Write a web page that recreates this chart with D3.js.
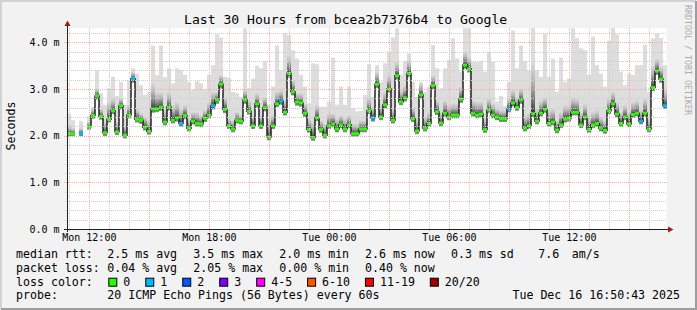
<!DOCTYPE html>
<html>
<head>
<meta charset="utf-8">
<script src="https://cdn.jsdelivr.net/npm/d3@7/dist/d3.min.js"></script>
<style>
body { margin: 0; background: #f2f2f2; }
text { font-family: "DejaVu Sans Mono", monospace; white-space: pre; }
</style>
</head>
<body>
<div id="chart"></div>
<script>
// smokeping style graph, 150 steps of 12 minutes (30 hours)
var width = 697;
var height = 310;

var startTime = new Date(2025, 11, 15, 10, 53);
var endTime = new Date(2025, 11, 16, 16, 53);
var stepMinutes = 12;

// median rtt per step (ms), null = no data
var median = [
	2.04, 2.04, null, 2.05, null, 2.19, 2.43, 2.85, 2.41, 2.06,
	2.35, 2.53, 2.08, 2.64, 2.01, 2.44, 3.22, 2.35, 2.33, 2.18,
	2.09, 2.57, 2.57, 2.61, 2.29, 2.61, 2.33, 2.38, 2.26, 2.43,
	2.16, 2.31, 2.26, 2.25, 2.37, 2.44, 2.64, 2.76, 3.10, 2.56,
	2.21, 2.14, 2.33, 2.31, 2.76, 2.52, 2.21, 2.68, 2.21, 2.60,
	1.97, 2.21, 2.68, 2.74, 2.50, 3.33, 2.94, 2.72, 2.70, 2.48,
	2.13, 1.96, 2.38, 2.13, 2.01, 2.21, 2.25, 2.14, 2.23, 2.14,
	2.23, 2.04, 2.04, 2.14, 2.14, 2.53, 2.38, 3.10, 2.40, 2.66,
	3.00, 2.33, 3.28, 2.72, 2.81, 3.33, 2.36, 2.10, 2.87, 2.16,
	2.26, 3.07, 2.51, 2.27, 2.48, 2.40, 2.44, 2.44, 2.78, 3.51,
	3.43, 2.48, 2.44, 2.46, 2.13, 2.55, 2.44, 2.40, 2.36, 2.36,
	2.57, 2.70, 2.60, 2.76, 2.16, 2.21, 2.47, 2.31, 2.48, 2.56,
	2.26, 2.29, 2.12, 2.23, 2.35, 2.37, 2.50, 2.50, 2.23, 2.40,
	2.13, 2.23, 2.26, 2.16, 2.11, 2.53, 2.68, 2.46, 2.26, 2.40,
	2.25, 2.45, 2.48, 2.31, 2.48, 2.14, 3.03, 3.38, 3.21, 2.64
];

// fastest ping per step (bottom of the smoke)
var minPing = [
	1.98, 1.99, null, 1.99, null, 2.13, 2.36, 2.77, 2.34, 1.99,
	2.28, 2.46, 2.01, 2.56, 1.94, 2.37, 3.13, 2.28, 2.25, 2.11,
	2.02, 2.49, 2.50, 2.53, 2.22, 2.53, 2.26, 2.30, 2.19, 2.35,
	2.09, 2.24, 2.19, 2.18, 2.29, 2.37, 2.56, 2.68, 3.01, 2.48,
	2.14, 2.07, 2.26, 2.24, 2.68, 2.45, 2.14, 2.60, 2.14, 2.52,
	1.90, 2.14, 2.61, 2.66, 2.43, 3.24, 2.86, 2.64, 2.62, 2.40,
	2.06, 1.89, 2.31, 2.06, 1.94, 2.14, 2.18, 2.07, 2.16, 2.07,
	2.16, 1.98, 1.98, 2.07, 2.07, 2.46, 2.30, 3.02, 2.33, 2.58,
	2.92, 2.26, 3.20, 2.65, 2.73, 3.25, 2.29, 2.03, 2.79, 2.09,
	2.19, 2.99, 2.44, 2.20, 2.41, 2.33, 2.37, 2.37, 2.70, 3.43,
	3.35, 2.41, 2.37, 2.39, 2.06, 2.48, 2.37, 2.33, 2.29, 2.29,
	2.50, 2.62, 2.53, 2.68, 2.09, 2.14, 2.40, 2.24, 2.41, 2.49,
	2.19, 2.22, 2.05, 2.16, 2.28, 2.30, 2.43, 2.43, 2.16, 2.33,
	2.06, 2.16, 2.19, 2.09, 2.04, 2.46, 2.60, 2.39, 2.19, 2.33,
	2.18, 2.38, 2.41, 2.24, 2.41, 2.07, 2.95, 3.30, 3.13, 2.57
];

// top of the dense (dark) part of the smoke
var upperPing = [
	2.23, 2.16, null, 2.16, null, 2.30, 2.58, 3.01, 2.58, 2.30,
	2.73, 2.80, 2.30, 2.80, 2.23, 2.66, 3.37, 2.58, 2.48, 2.41,
	2.33, 3.15, 2.94, 2.94, 2.55, 2.94, 2.66, 2.73, 2.58, 2.66,
	2.37, 2.51, 2.51, 2.44, 2.55, 2.73, 2.94, 2.94, 3.30, 2.83,
	2.37, 2.33, 2.51, 2.44, 2.98, 2.76, 2.44, 2.91, 2.44, 2.83,
	2.37, 2.44, 2.94, 2.98, 2.76, 3.73, 3.19, 2.91, 2.91, 2.69,
	2.37, 2.30, 2.66, 2.33, 2.26, 2.48, 2.48, 2.37, 2.44, 2.37,
	2.44, 2.26, 2.26, 2.33, 2.33, 2.83, 2.62, 3.37, 2.66, 2.94,
	3.30, 2.58, 3.58, 2.98, 3.08, 3.62, 2.62, 2.37, 3.12, 2.41,
	2.51, 3.30, 2.76, 2.51, 2.76, 2.66, 2.69, 2.69, 3.05, 3.80,
	3.69, 2.76, 2.73, 2.73, 2.37, 2.80, 2.69, 2.58, 2.55, 2.55,
	2.80, 2.98, 2.83, 3.01, 2.44, 2.48, 3.58, 2.58, 2.76, 2.83,
	2.55, 2.58, 2.33, 2.51, 2.66, 2.66, 2.83, 2.80, 2.51, 2.69,
	2.41, 2.51, 2.55, 2.41, 2.33, 2.80, 2.94, 2.73, 2.51, 2.66,
	2.51, 2.73, 2.76, 2.55, 2.80, 2.37, 3.51, 3.65, 3.48, 3.01
];

// slowest ping per step (top of the smoke)
var maxPing = [
	2.46, 2.33, null, 2.31, null, 2.41, 2.62, 3.40, 2.91, 2.66,
	3.01, 3.26, 2.85, 3.15, 2.66, 3.19, 3.44, 3.33, 3.08, 2.87,
	2.94, 3.93, 3.30, 3.93, 3.25, 3.44, 3.12, 3.44, 3.40, 3.30,
	3.15, 2.98, 3.17, 3.12, 2.99, 3.30, 3.51, 4.17, 4.10, 3.26,
	3.24, 2.94, 2.91, 2.83, 4.31, 3.01, 3.22, 3.50, 3.44, 3.60,
	2.66, 3.05, 3.93, 3.40, 4.19, 4.15, 3.83, 3.65, 3.30, 3.05,
	2.69, 3.55, 3.53, 2.62, 2.62, 2.73, 3.67, 2.66, 3.05, 2.66,
	3.05, 2.59, 2.52, 2.53, 2.87, 3.53, 2.83, 3.51, 3.15, 3.55,
	3.80, 4.10, 4.30, 3.30, 3.60, 3.76, 3.15, 2.83, 3.15, 2.94,
	3.05, 3.94, 3.44, 3.01, 3.44, 3.62, 4.08, 3.65, 3.37, 4.30,
	4.30, 3.58, 3.57, 3.60, 3.37, 3.80, 3.58, 2.73, 2.85, 2.63,
	3.15, 4.25, 3.44, 3.93, 3.60, 3.40, 4.31, 3.40, 3.26, 4.19,
	3.26, 3.65, 2.94, 3.67, 3.15, 3.22, 4.32, 4.09, 3.87, 3.83,
	3.30, 4.12, 3.51, 3.33, 3.05, 4.03, 4.33, 4.17, 3.37, 3.08,
	3.33, 3.30, 3.51, 3.51, 3.94, 2.94, 4.08, 4.19, 4.09, 3.51
];

// lost pings (of 20) per step
var loss = [
	0, 0, 0, 1, 0, 0, 0, 0, 0, 0,
	0, 0, 0, 0, 0, 0, 1, 0, 0, 0,
	0, 0, 0, 0, 0, 0, 0, 0, 1, 0,
	0, 0, 0, 0, 0, 0, 1, 0, 0, 0,
	0, 0, 0, 0, 0, 0, 0, 0, 0, 0,
	0, 0, 0, 1, 0, 0, 0, 0, 0, 0,
	0, 0, 0, 0, 0, 0, 0, 0, 0, 0,
	0, 0, 0, 0, 0, 0, 1, 0, 0, 0,
	0, 0, 0, 0, 0, 0, 0, 0, 0, 0,
	0, 0, 0, 0, 0, 0, 0, 0, 0, 0,
	0, 0, 0, 0, 0, 0, 0, 0, 0, 0,
	1, 0, 0, 0, 0, 0, 0, 0, 0, 0,
	0, 0, 0, 0, 0, 0, 0, 0, 0, 0,
	0, 0, 0, 0, 0, 0, 0, 0, 0, 0,
	0, 0, 0, 1, 0, 0, 0, 0, 0, 1
];

var yMajor = [0, 1, 2, 3, 4];
var yLabels = ["0.0 m", "1.0 m", "2.0 m", "3.0 m", "4.0 m"];

var lossLabels = ["0", "1", "2", "3", "4-5", "6-10", "11-19", "20/20"];
var lossLimits = [0, 1, 2, 3, 5, 10, 19, 20];
var lossColors = ["#26ff00", "#00b8ff", "#0059ff", "#7e00ff", "#ff00ff", "#ff5500", "#ff0000", "#a00000"];

var rttStats = ["2.5 ms avg", "3.5 ms max", "2.0 ms min", "2.6 ms now", "0.3 ms sd", "7.6", "am/s"];
var lossStats = ["0.04 % avg", "2.05 % max", "0.00 % min", "0.40 % now"];
var titleText = "Last 30 Hours from bcea2b7376b4 to Google";
var probeText = "20 ICMP Echo Pings (56 Bytes) every 60s";
var stampText = "Tue Dec 16 16:50:43 2025";

var pLeft = 67, pRight = 667, pTop = 28.2, pBottom = 229;

var svg = d3.select("div#chart").append("svg")
	.attr("width", width)
	.attr("height", height);

// frame
svg.append("rect").attr("width", width).attr("height", height).attr("fill", "#f2f2f2");
svg.append("path").attr("d", "M1,309 V1 H696").attr("fill", "none").attr("stroke", "#d2d2d2").attr("stroke-width", 2);
svg.append("path").attr("d", "M1,309 H696 V1").attr("fill", "none").attr("stroke", "#9c9c9c").attr("stroke-width", 2);

var x = d3.scaleTime().domain([startTime, endTime]).range([pLeft, pRight]);
var y = d3.scaleLinear().domain([0, 4.3]).range([pBottom, pTop]);

var defs = svg.append("defs");
defs.append("clipPath").attr("id", "plotclip")
	.append("rect").attr("x", pLeft).attr("y", pTop).attr("width", pRight - pLeft).attr("height", pBottom - pTop);

var gUp = defs.append("linearGradient").attr("id", "smokeUp")
	.attr("x1", 0).attr("y1", 0).attr("x2", 0).attr("y2", 1);
[[0, "#dcdcdc"], [0.4, "#b4b4b4"], [0.75, "#767676"], [1, "#353535"]].forEach(function (s) {
	gUp.append("stop").attr("offset", s[0]).attr("stop-color", s[1]);
});
var gDown = defs.append("linearGradient").attr("id", "smokeDown")
	.attr("x1", 0).attr("y1", 0).attr("x2", 0).attr("y2", 1);
[[0, "#353535"], [1, "#a0a0a0"]].forEach(function (s) {
	gDown.append("stop").attr("offset", s[0]).attr("stop-color", s[1]);
});

svg.append("rect").attr("x", pLeft).attr("y", pTop).attr("width", pRight - pLeft).attr("height", pBottom - pTop)
	.attr("fill", "#ffffff");

var steps = median.map(function (m, i) {
	return {
		t0: d3.timeMinute.offset(startTime, i * stepMinutes),
		t1: d3.timeMinute.offset(startTime, (i + 1) * stepMinutes),
		med: m, lo: minPing[i], up: upperPing[i], hi: maxPing[i], loss: loss[i]
	};
});
var valid = steps.filter(function (d) { return d.med != null; });

var plot = svg.append("g").attr("clip-path", "url(#plotclip)");

// smoke
plot.selectAll("rect.smoke").data(valid).enter().append("rect")
	.attr("class", "smoke")
	.attr("x", function (d) { return x(d.t0); })
	.attr("width", function (d) { return x(d.t1) - x(d.t0); })
	.attr("y", function (d) { return y(d.hi); })
	.attr("height", function (d) { return y(d.lo) - y(d.hi); })
	.attr("fill", "#dddddd");
plot.selectAll("rect.smokeup").data(valid).enter().append("rect")
	.attr("class", "smokeup")
	.attr("x", function (d) { return x(d.t0); })
	.attr("width", function (d) { return x(d.t1) - x(d.t0); })
	.attr("y", function (d) { return y(d.up); })
	.attr("height", function (d) { return y(d.med) - y(d.up); })
	.attr("fill", "url(#smokeUp)");
plot.selectAll("rect.smokedown").data(valid).enter().append("rect")
	.attr("class", "smokedown")
	.attr("x", function (d) { return x(d.t0); })
	.attr("width", function (d) { return x(d.t1) - x(d.t0); })
	.attr("y", function (d) { return y(d.med); })
	.attr("height", function (d) { return y(d.lo) - y(d.med); })
	.attr("fill", "url(#smokeDown)");

// grid
var minorY = d3.range(1, 22).map(function (k) { return k * 0.2; }).filter(function (v) { return Math.abs(v - Math.round(v)) > 0.01; });
var grid = svg.append("g").attr("shape-rendering", "crispEdges");
function px(v) { return Math.round(v) + 0.5; }
var hours = x.ticks(d3.timeHour.every(1));
var hours3 = x.ticks(d3.timeHour.every(3)).map(Number);
grid.selectAll("line.vminor").data(hours.filter(function (t) { return hours3.indexOf(+t) < 0; })).enter().append("line")
	.attr("x1", function (d) { return px(x(d)); }).attr("x2", function (d) { return px(x(d)); })
	.attr("y1", pTop).attr("y2", pBottom + 2)
	.attr("stroke", "#cdcdcd").attr("stroke-dasharray", "1,1");
grid.selectAll("line.hminor").data(minorY).enter().append("line")
	.attr("y1", function (d) { return px(y(d)); }).attr("y2", function (d) { return px(y(d)); })
	.attr("x1", pLeft - 2).attr("x2", pRight)
	.attr("stroke", "#cdcdcd").attr("stroke-dasharray", "1,1");
grid.selectAll("line.vmajor").data(hours3).enter().append("line")
	.attr("x1", function (d) { return px(x(d)); }).attr("x2", function (d) { return px(x(d)); })
	.attr("y1", pTop).attr("y2", pBottom + 3)
	.attr("stroke", "#f4a8a8").attr("stroke-dasharray", "1,1");
grid.selectAll("line.hmajor").data(yMajor.slice(1)).enter().append("line")
	.attr("y1", function (d) { return px(y(d)); }).attr("y2", function (d) { return px(y(d)); })
	.attr("x1", pLeft - 3).attr("x2", pRight)
	.attr("stroke", "#f4a8a8").attr("stroke-dasharray", "1,1");

// median line
var medPts = [];
steps.forEach(function (d) {
	medPts.push({ t: d.t0, v: d.med });
	medPts.push({ t: d.t1, v: d.med });
});
var line = d3.line()
	.defined(function (d) { return d.v != null; })
	.x(function (d) { return x(d.t); })
	.y(function (d) { return y(d.v); });
plot.append("path").datum(medPts)
	.attr("d", line)
	.attr("fill", "none")
	.attr("stroke", "#202020")
	.attr("stroke-width", 1.5);

// loss coloured median marks
function lossIndex(n) {
	for (var i = 0; i < lossLimits.length; i++) {
		if (n <= lossLimits[i]) return i;
	}
	return lossLimits.length - 1;
}
plot.selectAll("rect.med").data(valid).enter().append("rect")
	.attr("class", "med")
	.attr("x", function (d) { return x(d.t0); })
	.attr("width", function (d) { return x(d.t1) - x(d.t0); })
	.attr("y", function (d) { return y(d.med) - 1.5; })
	.attr("height", 3)
	.attr("fill", function (d) { return lossColors[lossIndex(d.loss)]; });

// axes
svg.append("line").attr("x1", pLeft + 0.5).attr("x2", pLeft + 0.5).attr("y1", pBottom + 3).attr("y2", 25)
	.attr("stroke", "#222").attr("shape-rendering", "crispEdges");
svg.append("line").attr("x1", pLeft - 3).attr("x2", pRight + 3).attr("y1", pBottom + 0.5).attr("y2", pBottom + 0.5)
	.attr("stroke", "#222").attr("shape-rendering", "crispEdges");
svg.append("path").attr("d", "M67.5,20.5 L64.5,26 L70.5,26 Z").attr("fill", "#9b1c1c");
svg.append("path").attr("d", "M673.5,229.5 L668,226.5 L668,232.5 Z").attr("fill", "#9b1c1c");

// axis labels
svg.selectAll("text.ylab").data(yMajor).enter().append("text")
	.attr("x", 59.5)
	.attr("y", function (d) { return y(d) + 3.6; })
	.attr("text-anchor", "end")
	.attr("font-size", "10px")
	.text(function (d, i) { return yLabels[i]; });
var fmt = d3.timeFormat("%a %H:%M");
svg.selectAll("text.xlab").data(x.ticks(d3.timeHour.every(6))).enter().append("text")
	.attr("x", function (d) { return x(d); })
	.attr("y", 240.5)
	.attr("text-anchor", "middle")
	.attr("font-size", "10px")
	.text(function (d) { return fmt(d); });

svg.append("text").attr("transform", "translate(15,126) rotate(-90)")
	.attr("text-anchor", "middle").attr("font-size", "11.6px").text("Seconds");
svg.append("text").attr("x", 184).attr("y", 23.5).attr("font-size", "13.1px").text(titleText);
svg.append("text").attr("transform", "translate(685,5) rotate(90)")
	.attr("font-size", "8.3px").attr("fill", "#ababab").text("RRDTOOL / TOBI OETIKER");

// legend
var fs = "11.6px", cw = 6.97, col0 = 16, col1 = 107.3;
var statX = [107.3, 193.3, 279.3, 365, 451, 538.3, 571.7];
var rows = [258.3, 272, 285.7, 299.3];
var legend = svg.append("g").attr("font-size", fs);
legend.append("text").attr("x", col0).attr("y", rows[0]).text("median rtt:");
legend.selectAll("text.rtt").data(rttStats).enter().append("text")
	.attr("x", function (d, i) { return statX[i]; }).attr("y", rows[0]).text(function (d) { return d; });
legend.append("text").attr("x", col0).attr("y", rows[1]).text("packet loss:");
legend.selectAll("text.pl").data(lossStats).enter().append("text")
	.attr("x", function (d, i) { return statX[i]; }).attr("y", rows[1]).text(function (d) { return d; });
legend.append("text").attr("x", col0).attr("y", rows[2]).text("loss color:");
var lx = [];
var cur = 108.3;
lossLabels.forEach(function (l) { lx.push(cur); cur += 15 + l.length * cw + 15; });
legend.selectAll("rect.lc").data(lossLabels).enter().append("rect")
	.attr("x", function (d, i) { return lx[i] + 0.5; })
	.attr("y", rows[2] - 7.5)
	.attr("width", 8).attr("height", 8)
	.attr("fill", function (d, i) { return lossColors[i]; })
	.attr("stroke", "#000").attr("stroke-width", 1);
legend.selectAll("text.lc").data(lossLabels).enter().append("text")
	.attr("x", function (d, i) { return lx[i] + 15; })
	.attr("y", rows[2]).text(function (d) { return d; });
legend.append("text").attr("x", col0).attr("y", rows[3]).text("probe:");
legend.append("text").attr("x", col1).attr("y", rows[3]).text(probeText);
legend.append("text").attr("x", 680).attr("y", rows[3]).attr("text-anchor", "end").text(stampText);
</script>
</body>
</html>
